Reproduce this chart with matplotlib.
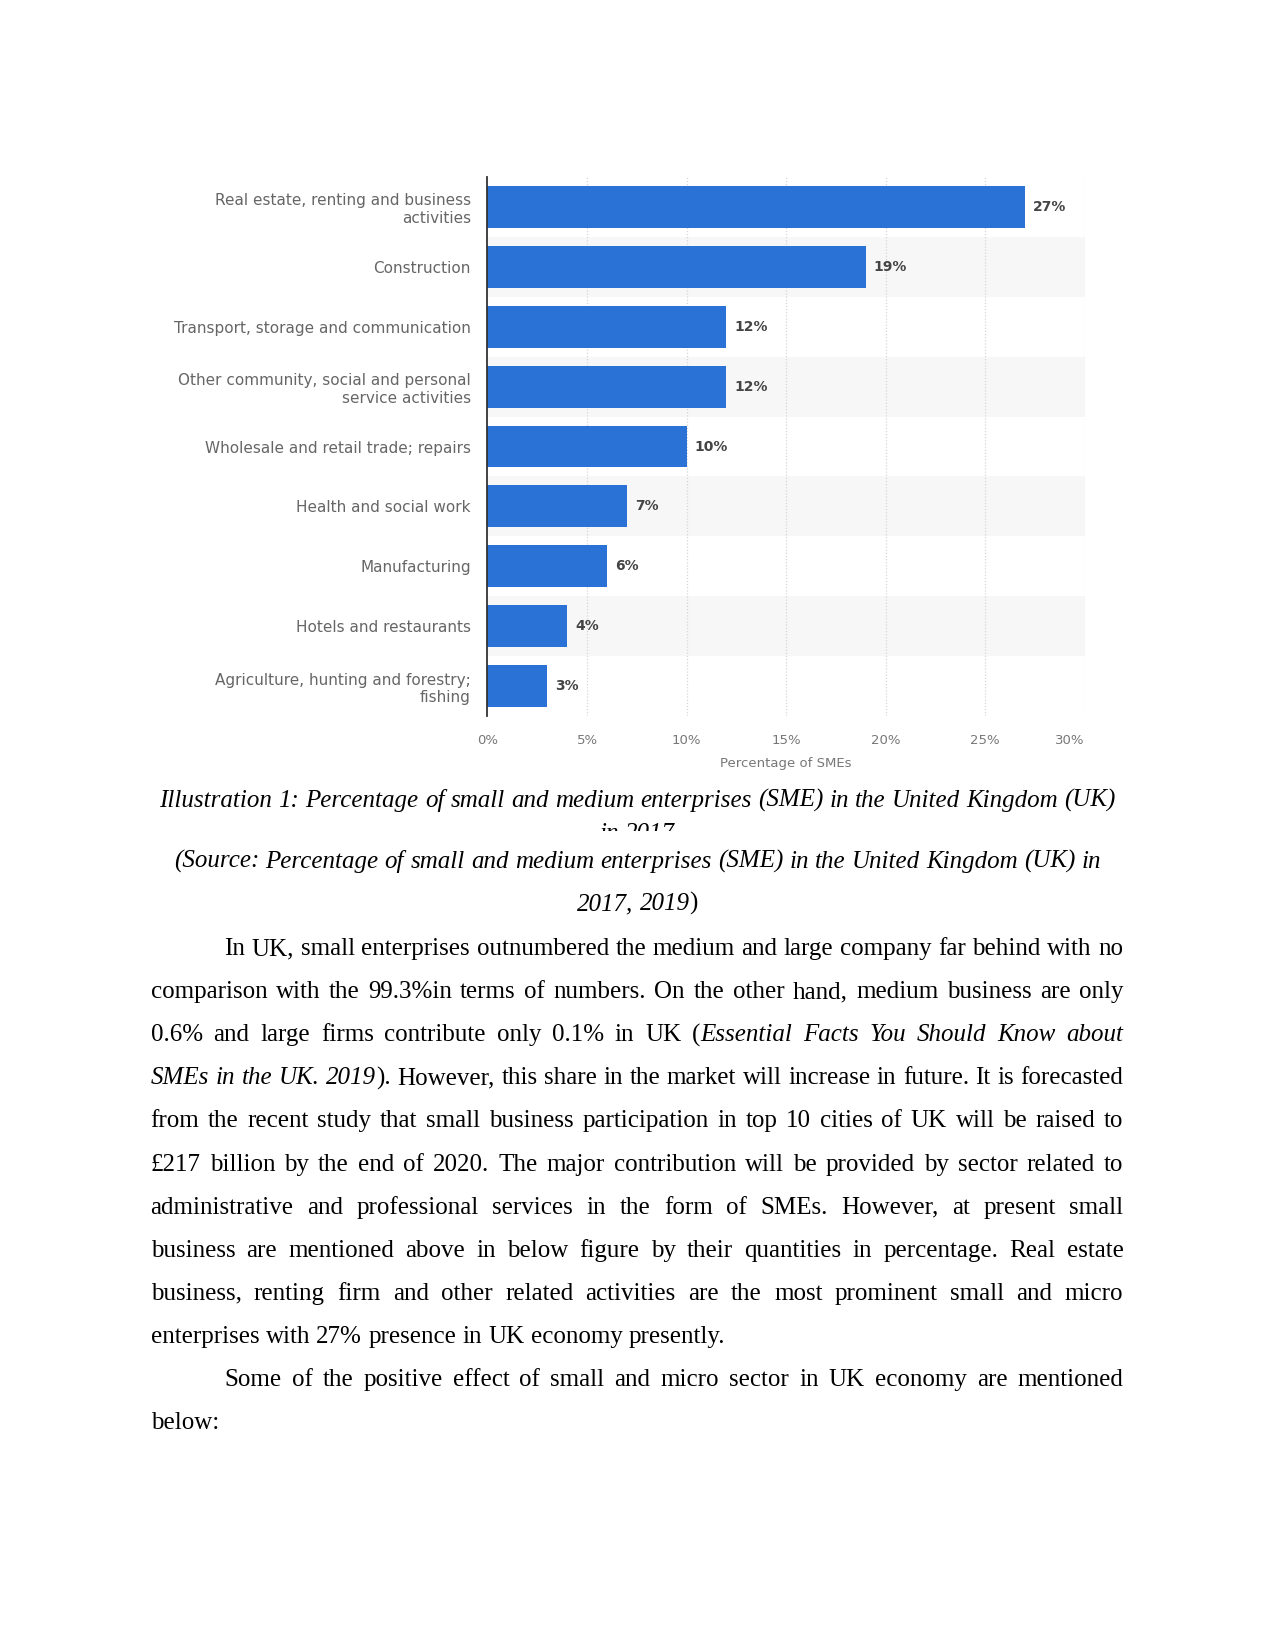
import matplotlib
matplotlib.use('Agg')
import matplotlib.pyplot as plt
from matplotlib.transforms import IdentityTransform, Bbox

# chart data
sectors = ['Real estate, renting and business\nactivities',
           'Construction',
           'Transport, storage and communication',
           'Other community, social and personal\nservice activities',
           'Wholesale and retail trade; repairs',
           'Health and social work',
           'Manufacturing',
           'Hotels and restaurants',
           'Agriculture, hunting and forestry;\nfishing']
shares = [27, 19, 12, 12, 10, 7, 6, 4, 3]
xticks = [0, 5, 10, 15, 20, 25, 30]
xtick_labels = ['0%', '5%', '10%', '15%', '20%', '25%', '30%']

# document text, '*' toggles italic
caption_lines = ['*Illustration 1: Percentage of small and medium enterprises (SME) in the United Kingdom (UK)*']
caption_cut = '*in 2017*'
source_lines = ['*(Source: Percentage of small and medium enterprises (SME) in the United Kingdom (UK) in*',
                '*2017, 2019*)']
para1 = ['In UK, small enterprises outnumbered the medium and large company far behind with no',
         'comparison with the 99.3%in terms of numbers. On the other hand, medium business are only',
         '0.6% and large firms contribute only 0.1% in UK (*Essential Facts You Should Know about*',
         '*SMEs in the UK. 2019*). However, this share in the market will increase in future. It is forecasted',
         'from the recent study that small business participation in top 10 cities of UK will be raised to',
         '£217 billion by the end of 2020. The major contribution will be provided by sector related to',
         'administrative and professional services in the form of SMEs. However, at present small',
         'business are mentioned above in below figure by their quantities in percentage. Real estate',
         'business, renting firm and other related activities are the most prominent small and micro',
         'enterprises with 27% presence in UK economy presently.']
para2 = ['Some of the positive effect of small and micro sector in UK economy are mentioned',
         'below:']

W, H = 1275, 1651
fig = plt.figure(figsize=(W / 100, H / 100), dpi=100)
fig.patch.set_facecolor('white')

# ---- chart ----
ax = fig.add_axes([487.5 / W, 1 - 716 / H, (1084.5 - 487.5) / W, (716 - 177) / H])
ypos = list(range(len(sectors)))
for i in ypos:
    if i % 2 == 1:
        ax.axhspan(i - 0.5, i + 0.5, color='#f7f7f7', zorder=0, lw=0)
for x in xticks[1:]:
    ax.axvline(x, color='#d6d6d6', lw=0.9, ls=(0, (1, 1.5)), zorder=1)
ax.barh(ypos, shares, height=0.7, color='#2a72d6', zorder=2)
for i, v in zip(ypos, shares):
    ax.annotate(f'{v}%', (v, i), xytext=(6, 0), textcoords='offset points',
                va='center', ha='left', fontsize=10, fontweight='bold', color='#444444')
ax.set_xlim(0, 30)
ax.set_ylim(len(sectors) - 0.5, -0.5)
ax.set_yticks(ypos)
ax.set_yticklabels(sectors, fontsize=11, color='#666666', linespacing=1.2)
ax.set_xticks(xticks)
ax.set_xticklabels(xtick_labels, fontsize=9.5, color='#777777')
ax.get_xticklabels()[-1].set_ha('right')
ax.tick_params(axis='both', length=0)
ax.tick_params(axis='x', pad=13)
ax.tick_params(axis='y', pad=12)
ax.set_xlabel('Percentage of SMEs', fontsize=9.5, color='#777777', labelpad=7)
for s in ['top', 'right', 'bottom']:
    ax.spines[s].set_visible(False)
ax.spines['left'].set_color('#333333')
ax.spines['left'].set_linewidth(1.3)
ax.set_facecolor('white')

# ---- document text ----
renderer = fig.canvas.get_renderer()
FS = 18
FAM = 'Liberation Serif'
LEFT, RIGHT = 150.6, 1123.4


def tokenize(line, italic):
    words = []
    for w in line.split(' '):
        segs = []
        parts = w.split('*')
        for k, p in enumerate(parts):
            if k > 0:
                italic = not italic
            if p:
                segs.append((p, italic))
        words.append(segs)
    return words, italic


def put_line(line, ybase, x0, x1, align, clip=None):
    words, _ = tokenize(line, False)
    placed = []
    widths = []
    for segs in words:
        arts = []
        tw = 0
        for s, it in segs:
            t = fig.text(0, H - ybase, s, fontsize=FS, family=FAM,
                         style='italic' if it else 'normal', va='baseline',
                         ha='left', transform=IdentityTransform(), color='black')
            w = t.get_window_extent(renderer).width
            arts.append((t, tw))
            tw += w
        placed.append(arts)
        widths.append(tw)
    probe1 = fig.text(0, 0, 'a a', fontsize=FS, family=FAM)
    probe2 = fig.text(0, 0, 'aa', fontsize=FS, family=FAM)
    space = probe1.get_window_extent(renderer).width - probe2.get_window_extent(renderer).width
    probe1.remove()
    probe2.remove()
    n = len(words)
    total = sum(widths)
    if align == 'justify' and n > 1:
        gap = (x1 - x0 - total) / (n - 1)
        x = x0
    elif align == 'center':
        gap = space
        x = (x0 + x1) / 2 - (total + gap * (n - 1)) / 2
    else:
        gap = space
        x = x0
    for arts, w in zip(placed, widths):
        for t, off in arts:
            t.set_x(x + off)
            if clip is not None:
                t.set_clip_box(clip)
                t.set_clip_on(True)
        x += w + gap


# caption
put_line(caption_lines[0], 807, 0, W, 'center')
put_line(caption_cut, 840, 0, W, 'center',
         clip=Bbox.from_extents(0, H - 831, W, H))
put_line(source_lines[0], 868, 0, W, 'center')
put_line(source_lines[1], 910, 0, W, 'center')

# paragraphs
step = 43.1
base = 955
INDENT = 224.3
lines = [(l, k == 0, k == len(para1) - 1) for k, l in enumerate(para1)] + \
        [(l, k == 0, k == len(para2) - 1) for k, l in enumerate(para2)]
for j, (l, first, last) in enumerate(lines):
    x0 = INDENT if first else LEFT
    put_line(l, base + j * step, x0, RIGHT, 'left' if last else 'justify')

fig.savefig('out.png', dpi=100, facecolor='white')
